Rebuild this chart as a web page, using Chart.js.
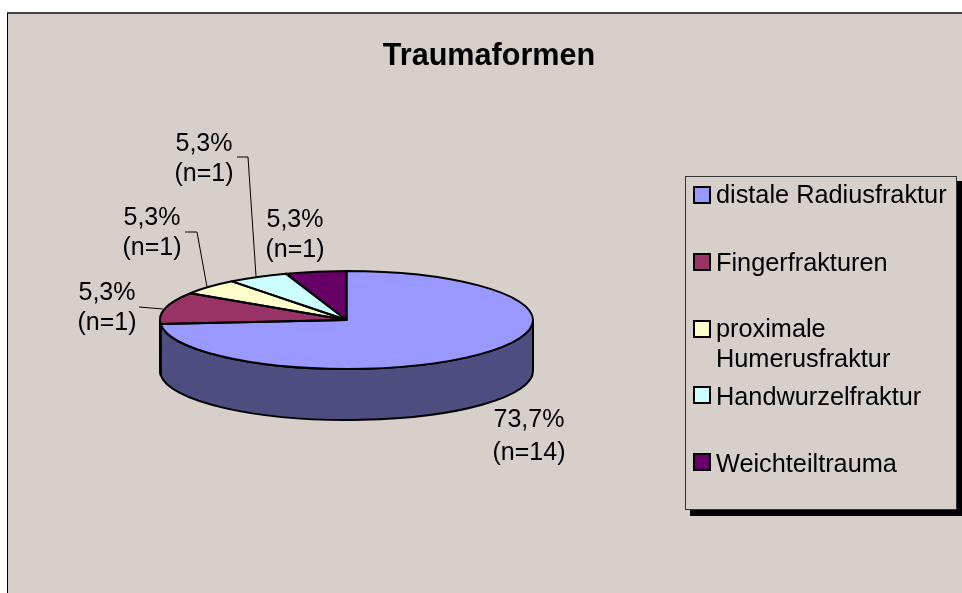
<!DOCTYPE html>
<html><head><meta charset="utf-8">
<style>html,body{margin:0;padding:0;background:#fff;overflow:hidden}canvas{display:block}</style>
<script src="https://cdn.jsdelivr.net/npm/chart.js@4"></script>
</head><body>
<div style="position:relative;width:962px;height:593px"><canvas id="c" width="962" height="593"></canvas></div>
<script>
const chartTitle = 'Traumaformen';
const categories = ['distale Radiusfraktur','Fingerfrakturen','proximale Humerusfraktur','Handwurzelfraktur','Weichteiltrauma'];
const legendLines = [['distale Radiusfraktur'],['Fingerfrakturen'],['proximale','Humerusfraktur'],['Handwurzelfraktur'],['Weichteiltrauma']];
const sliceValues = [14,2,1,1,1];
const percentLabels = ['73,7%','5,3%','5,3%','5,3%','5,3%'];
const countLabels = ['(n=14)','(n=1)','(n=1)','(n=1)','(n=1)'];
const sliceColors = ['#9999FF','#993366','#FFFFCC','#CCFFFF','#660066'];
const wallColors = ['#4D4D80','#4D1933','#808066','#668080','#330033'];

const BG = '#D6CFCA', FONT = '"Liberation Sans", Arial, sans-serif';
const SQUASH = 49/186.5, DEPTH = 51;
const labelPos = [[529,427,460],[107,300,330],[152,225,255],[204,151,181],[295,227,257]];
const legendSwatchY = [187,254,321,387,454];
const legendBase = [[203],[271],[337,367],[405],[472]];
const leaders = [[[237,157],[248,157],[256,276]],[[185,232],[197,232],[207,287]],[[139,307],[163,309]]];

const pie3d = {
  id:'pie3d',
  beforeDraw(chart){
    const c = chart.ctx;
    c.save();
    c.fillStyle='#fff'; c.fillRect(0,0,962,593);
    c.fillStyle=BG; c.fillRect(7,13,955,580);
    c.fillStyle='#444'; c.fillRect(7,12,955,2);
    c.fillStyle='#000'; c.fillRect(7,13,1,580);
    c.restore();
  },
  beforeDatasetsDraw(chart){
    const c = chart.ctx, arcs = chart.getDatasetMeta(0).data;
    const cx = arcs[0].x, cy = arcs[0].y, R = arcs[0].outerRadius, ry = R*SQUASH;
    c.save();
    c.lineWidth=2; c.strokeStyle='#000'; c.lineJoin='round';
    arcs.forEach((a,i)=>{
      const a0=Math.max(a.startAngle,0), a1=Math.min(a.endAngle,Math.PI);
      if(a1<=a0) return;
      c.beginPath();
      c.ellipse(cx,cy,R,ry,0,a0,a1);
      c.ellipse(cx,cy+DEPTH,R,ry,0,a1,a0,true);
      c.closePath();
      c.fillStyle=wallColors[i]; c.fill(); c.stroke();
    });
    c.restore();
    c.save();
    c.translate(cx,cy); c.scale(1,SQUASH); c.translate(-cx,-cy);
  },
  afterDatasetsDraw(chart){
    const c = chart.ctx, arcs = chart.getDatasetMeta(0).data;
    c.restore();
    const cx = arcs[0].x, cy = arcs[0].y, R = arcs[0].outerRadius, ry = R*SQUASH;
    c.save();
    c.lineWidth=2; c.strokeStyle='#000'; c.lineJoin='round';
    arcs.forEach(a=>{
      c.beginPath();
      c.moveTo(cx,cy);
      c.ellipse(cx,cy,R,ry,0,a.startAngle,a.endAngle);
      c.closePath();
      c.stroke();
    });
    c.restore();
  },
  afterDraw(chart){
    const c = chart.ctx;
    c.save();
    c.textBaseline='alphabetic';
    c.fillStyle='#000';
    c.font='bold 30.6px '+FONT; c.textAlign='center';
    c.fillText(chartTitle,489,65);
    c.font='25px '+FONT;
    percentLabels.forEach((t,i)=>{
      c.fillText(t,labelPos[i][0],labelPos[i][1]);
      c.fillText(countLabels[i],labelPos[i][0],labelPos[i][2]);
    });
    c.strokeStyle='#000'; c.lineWidth=1;
    leaders.forEach(l=>{
      c.beginPath();
      l.forEach((p,j)=>j?c.lineTo(p[0],p[1]):c.moveTo(p[0],p[1]));
      c.stroke();
    });
    // legend
    c.fillStyle='#000'; c.fillRect(690,181,272,335);
    c.fillStyle=BG; c.fillRect(685,176,272,334);
    c.strokeStyle='#333'; c.lineWidth=1; c.strokeRect(685.5,176.5,271,333);
    c.textAlign='left';
    c.font='25.3px '+FONT;
    categories.forEach((cat,i)=>{
      c.fillStyle=sliceColors[i];
      c.fillRect(694,legendSwatchY[i],16,16);
      c.strokeStyle='#000'; c.lineWidth=2;
      c.strokeRect(694,legendSwatchY[i],16,16);
      c.fillStyle='#000';
      legendLines[i].forEach((t,j)=>c.fillText(t,716,legendBase[i][j]));
    });
    c.restore();
  }
};

new Chart(document.getElementById('c'),{
  type:'pie',
  data:{labels:categories,datasets:[{data:sliceValues,backgroundColor:sliceColors,borderWidth:0}]},
  options:{
    responsive:false,animation:false,events:[],
    layout:{padding:{left:160,right:429,top:133.5,bottom:86.5}},
    plugins:{legend:{display:false},title:{display:false},tooltip:{enabled:false}}
  },
  plugins:[pie3d]
});
</script>
</body></html>
